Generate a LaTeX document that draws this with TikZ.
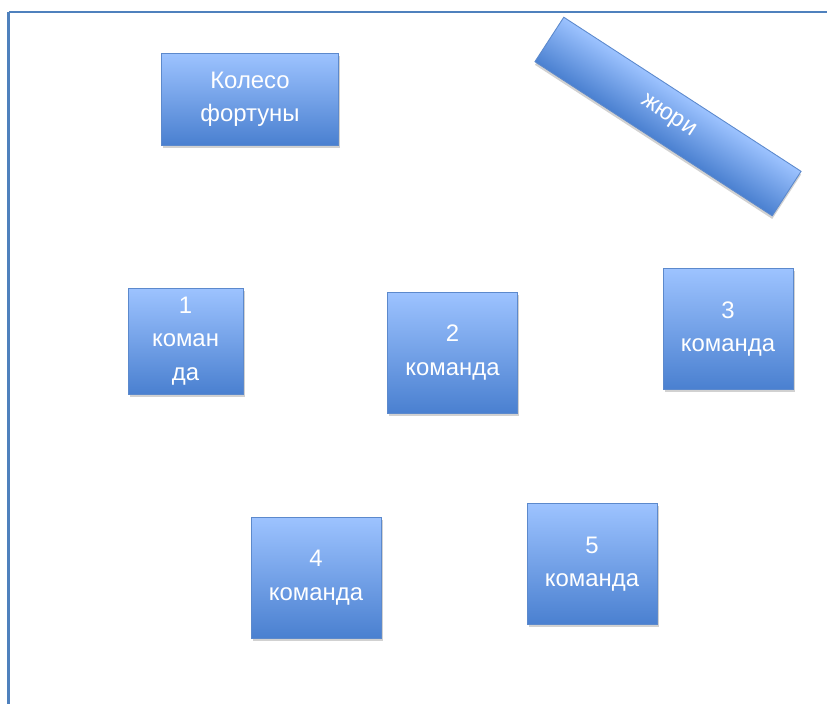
\documentclass[tikz,border=0pt]{standalone}
\usepackage{fontspec}
\setmainfont{Liberation Sans}
\usetikzlibrary{shadows}
\definecolor{boxtop}{RGB}{157,195,255}
\definecolor{boxbot}{RGB}{74,128,208}
\definecolor{boxedge}{RGB}{92,137,204}
\definecolor{frameblue}{RGB}{79,129,189}

\begin{document}
\begin{tikzpicture}[x=0.02cm,y=-0.02cm,
    card/.style={draw=boxedge,line width=0.5pt,
                 top color=boxtop,bottom color=boxbot,
                 text=white,align=center,inner sep=2pt,
                 font=\fontsize{13.6}{19}\selectfont,
                 drop shadow={opacity=0.3,shadow xshift=1pt,
                              shadow yshift=-1.5pt,fill=black!60}},
    team/.style={card,minimum width=2.6cm,minimum height=2.42cm},
    edge/.style={draw=frameblue},
  ]
    \useasboundingbox (0,0) rectangle (827,704);
    \coordinate (ftl) at (8.5,12);
    \coordinate (ftr) at (827,12);
    \coordinate (fbl) at (8.5,704);
    \draw[edge,line width=1.1pt](ftr)--(ftl);
    \draw[edge,line width=1.6pt](ftl)--(fbl);

    \node[card,minimum width=3.54cm,minimum height=1.84cm]
      (wheel) at (250,99) {Колесо\\фортуны};
    \begin{scope}[transform canvas={shift={(668,116.5)},rotate=-33}]
      \node[card,minimum width=5.66cm,minimum height=1.06cm]
        (jury) at (0,0) {жюри};
    \end{scope}

    \node[team,minimum width=2.3cm,minimum height=2.12cm]
      (t1) at (185.5,341) {1\\коман\\да};
    \node[team](t2) at (452.5,352.5) {2\\команда};
    \node[team](t3) at (728,329) {3\\команда};
    \node[team](t4) at (316,577.5) {4\\команда};
    \node[team](t5) at (592,564) {5\\команда};
  \end{tikzpicture}
\end{document}
